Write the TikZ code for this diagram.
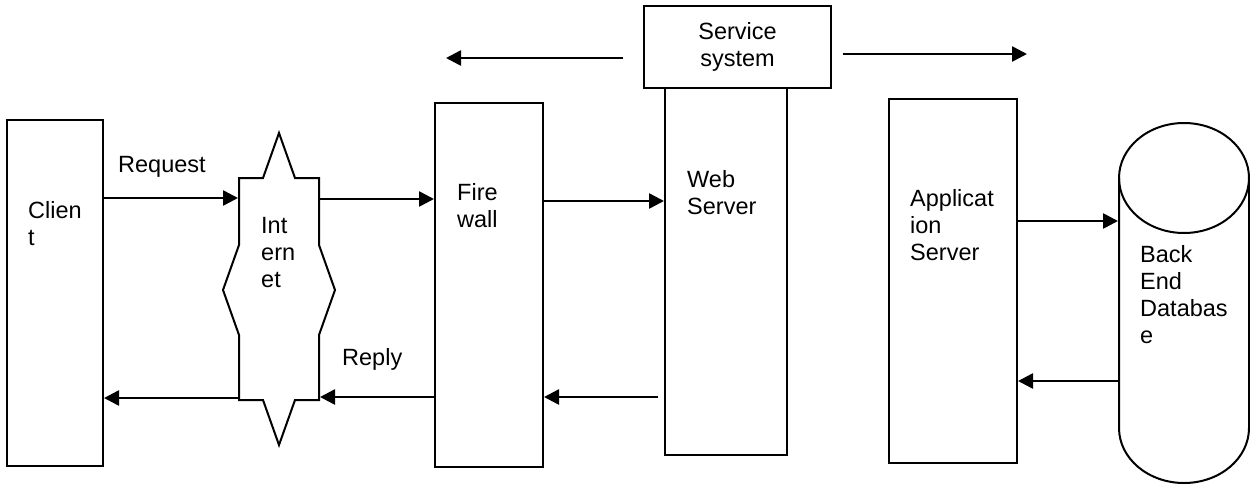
\documentclass[tikz,border=0pt]{standalone}
\usepackage{fontspec}
\setmainfont{Liberation Sans}
\usetikzlibrary{arrows.meta}
\begin{document}
\begin{tikzpicture}[x=1pt, y=-1pt,
  box/.style={draw, line width=2pt, inner sep=0pt},
  ghost/.style={inner sep=0pt, outer sep=1pt},
  outline/.style={line width=2pt, line join=miter},
  arr/.style={line width=2.6pt, -{Triangle[length=15pt,width=15pt]}},
  lbl/.style={anchor=base west, align=left, inner sep=0pt,
              font=\fontsize{23.5}{27}\selectfont},
]
\useasboundingbox (0,0) rectangle (1250,485);

% hosts and tiers
\node[box, minimum width=96pt,  minimum height=346pt] (client) at (55,293) {};
\node[ghost, minimum width=80pt, minimum height=222pt] (inet) at (279,289) {};
\node[box, minimum width=108pt, minimum height=364pt] (fw) at (489,285) {};
\node[box, minimum width=187pt, minimum height=82pt]  (svc) at (737.5,47) {};
\node[box, minimum width=122pt, minimum height=367pt] (web) at (726,271.5) {};
\node[box, minimum width=128pt, minimum height=364pt] (app) at (953,281) {};
\node[ghost, minimum width=130pt, minimum height=360pt] (db) at (1184,303) {};

% internet cloud: body with spikes at top and bottom and bulges at the sides
\draw[outline] (239,178) -- (263,178) -- (279,133) -- (295,178) -- (319,178)
  -- (319,245) -- (335,290) -- (319,335) -- (319,400) -- (295,400)
  -- (279,445) -- (263,400) -- (239,400) -- (239,335) -- (223,290)
  -- (239,245) -- cycle;

% database cylinder
\draw[outline] (1184,178) ellipse [x radius=65, y radius=55];
\draw[outline] (1119,178) -- (1119,428)
  arc[start angle=180, end angle=0, x radius=65, y radius=55] -- (1249,178);

% rows of the connectors
\coordinate (rowreq) at (0,198);
\coordinate (rowfw)  at (0,199);
\coordinate (rowweb) at (0,201);
\coordinate (rowapp) at (0,221);
\coordinate (rowdb)  at (0,381);
\coordinate (rowrep) at (0,397);
\coordinate (rowcl)  at (0,398);
\coordinate (rowtl)  at (0,58);
\coordinate (rowtr)  at (0,54);
\coordinate (toleft)  at (446,58);
\coordinate (toright) at (1027,54);

% request path
\draw[arr] (client.east |- rowreq) -- (inet.west |- rowreq);
\draw[arr] (inet.east |- rowfw) -- (fw.west |- rowfw);
\draw[arr] (fw.east |- rowweb) -- (web.west |- rowweb);
\draw[arr] (app.east |- rowapp) -- (db.west |- rowapp);

% reply path
\draw[arr] (db.west |- rowdb) -- (app.east |- rowdb);
\draw[arr, shorten <=6pt] (web.west |- rowrep) -- (fw.east |- rowrep);
\draw[arr] (fw.west |- rowrep) -- (inet.east |- rowrep);
\draw[arr] (inet.west |- rowcl) -- (client.east |- rowcl);

% service system spans both sides
\draw[arr, shorten <=20pt] (svc.west |- rowtl) -- (toleft);
\draw[arr, shorten <=11pt] (svc.east |- rowtr) -- (toright);

% labels (multi-line nodes are placed by the baseline of their last line)
\node[lbl] (treq) at (118,172) {Request};
\node[lbl] (trep) at (342,365) {Reply};
\node[lbl] (tclient) at (28,245) {Clien\\t};
\node[lbl] (tinet) at (261,287) {Int\\ern\\et};
\node[lbl] (tfw) at (457,227) {Fire\\wall};
\node[lbl] (tweb) at (687,214) {Web\\Server};
\node[lbl] (tapp) at (910,260) {Applicat\\ion\\Server};
\node[lbl] (tdb) at (1140,343) {Back\\End\\Databas\\e};
\node[lbl, anchor=base, align=center] (tsvc) at (737.5,66) {Service\\system};
\end{tikzpicture}
\end{document}
